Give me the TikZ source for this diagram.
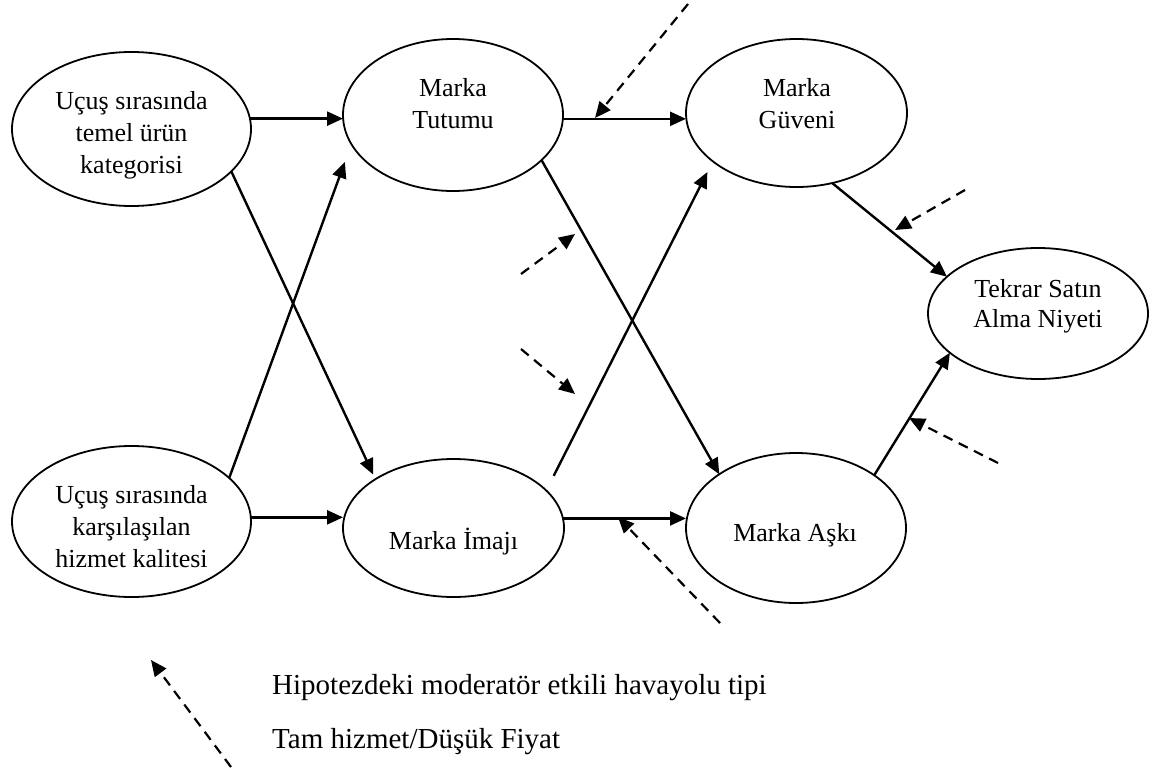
\documentclass[tikz,border=0pt]{standalone}
\usepackage{fontspec}
\setmainfont{Liberation Serif}
\usetikzlibrary{arrows.meta,shapes.geometric}
\begin{document}
\begin{tikzpicture}[x=1pt,y=-1pt,
  oval/.style={ellipse,draw,line width=1.8pt,inner sep=0pt,outer sep=0pt},
  lbl/.style={align=center,font=\fontsize{26}{32}\selectfont,inner sep=0pt},
  legtext/.style={anchor=west,font=\fontsize{29}{34}\selectfont,inner sep=0pt},
  link/.style={line width=2.4pt,-{Triangle[length=16pt,width=14pt]}},
  mod/.style={line width=2.2pt,dash pattern=on 10pt off 7pt,-{Triangle[length=16pt,width=14pt]}}]
\useasboundingbox (0,0) rectangle (1153,771);

% constructs
\node[oval,minimum width=239pt,minimum height=154pt] (cat) at (131.5,129) {};
\node[oval,minimum width=220pt,minimum height=152pt] (tut) at (453,115) {};
\node[oval,minimum width=221pt,minimum height=148pt] (guv) at (796.5,113) {};
\node[oval,minimum width=239pt,minimum height=151pt] (hiz) at (131.5,521.5) {};
\node[oval,minimum width=221pt,minimum height=138pt] (ima) at (453.5,528) {};
\node[oval,minimum width=220pt,minimum height=150pt] (ask) at (796,528) {};
\node[oval,minimum width=220pt,minimum height=131pt] (tek) at (1038,313.5) {};

% labels
\node[lbl] (cat-t) at (131.5,135) {Uçuş sırasında\\temel ürün\\kategorisi};
\node[lbl] (tut-t) at (453,104) {Marka\\Tutumu};
\node[lbl] (guv-t) at (797,104) {Marka\\Güveni};
\node[lbl] (hiz-t) at (131.5,527) {Uçuş sırasında\\karşılaşılan\\hizmet kalitesi};
\node[lbl] (ima-t) at (453.5,542) {Marka İmajı};
\node[lbl] (ask-t) at (795,535) {Marka Aşkı};
\node[lbl,font=\fontsize{26}{30}\selectfont] (tek-t) at (1038,306) {Tekrar Satın\\Alma Niyeti};

% hypothesised paths
\draw[link] (cat.5) -- (cat.5 -| tut.west);
\draw[link] (tut.-2.6) -- (tut.-2.6 -| guv.west);
\draw[link] (hiz.2) -- (hiz.2 -| ima.west);
\draw[link] (ima.5.8) -- (ima.5.8 -| ask.west);
\draw[link,shorten >=5pt] (cat.-23) -- (ima.148.5);
\draw[link,shorten >=19pt] (hiz.24) -- (tut.196);
\draw[link] (tut.-27) -- (ask.145.8);
\draw[link,shorten <=16.5pt,shorten >=12pt] (ima.22.7) -- (guv.210);
\draw[link] (guv.-63) -- (tek.158.3);
\draw[link] (ask.34.3) -- (tek.204);

% moderator (airline type) arrows
\coordinate (m1a) at (688,4);   \coordinate (m1b) at (595,118);
\coordinate (m2a) at (521,274); \coordinate (m2b) at (575,234);
\coordinate (m3a) at (521,349); \coordinate (m3b) at (575,394);
\coordinate (m4a) at (965,190); \coordinate (m4b) at (895,230);
\coordinate (m5a) at (998,463); \coordinate (m5b) at (909,418);
\coordinate (m6a) at (720,623); \coordinate (m6b) at (618,517);
\draw[mod] (m1a) -- (m1b);
\draw[mod] (m2a) -- (m2b);
\draw[mod] (m3a) -- (m3b);
\draw[mod] (m4a) -- (m4b);
\draw[mod] (m5a) -- (m5b);
\draw[mod] (m6a) -- (m6b);

% legend
\coordinate (lga) at (231,767); \coordinate (lgb) at (151,660);
\draw[mod] (lga) -- (lgb);
\node[legtext] (leg1) at (272,688) {Hipotezdeki moderatör etkili havayolu tipi};
\node[legtext] (leg2) at (272,742) {Tam hizmet/Düşük Fiyat};
\end{tikzpicture}
\end{document}
